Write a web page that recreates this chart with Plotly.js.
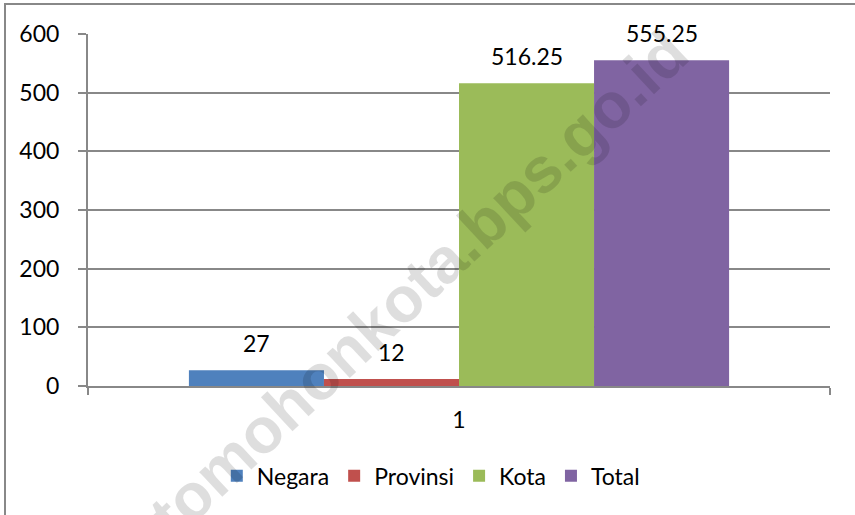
<!DOCTYPE html>
<html>
<head>
<meta charset="utf-8">
<script src="https://cdn.plot.ly/plotly-3.0.1.min.js"></script>
<style>html,body{margin:0;padding:0;background:#fff;}#chart{width:855px;height:515px;}</style>
</head>
<body>
<div id="chart"></div>
<script>
const categories = [1];
const seriesNames = ['Negara', 'Provinsi', 'Kota', 'Total'];
const seriesValues = [[27], [12], [516.25], [555.25]];
const seriesColors = ['#4F81BD', '#C0504D', '#9BBB59', '#8064A2'];
const valueLabels = ['27', '12', '516.25', '555.25'];
const yTicks = [0, 100, 200, 300, 400, 500, 600];
const watermark = 'tomohonkota.bps.go.id';

const FONT = 'Lato, Calibri, Carlito, sans-serif';
const bargap = 0.272;
const groupWidth = 1 - bargap;
const n = seriesNames.length;

const traces = seriesNames.map((name, i) => ({
  type: 'bar',
  name: name,
  x: categories,
  y: seriesValues[i],
  marker: {color: seriesColors[i], line: {width: 0}},
  hoverinfo: 'none'
}));

const annotations = [];
seriesNames.forEach((name, i) => {
  const xc = categories[0] + (i - (n - 1) / 2) * groupWidth / n;
  annotations.push({
    x: xc, y: seriesValues[i][0], xref: 'x', yref: 'y',
    text: valueLabels[i], showarrow: false,
    xanchor: 'center', yanchor: 'middle', yshift: 27,
    font: {family: FONT, size: 23, color: '#000'}
  });
});
annotations.push({
  x: 0.445, y: 0.29, xref: 'paper', yref: 'paper',
  xanchor: 'center', yanchor: 'middle',
  text: watermark, showarrow: false, textangle: -43,
  font: {family: 'Liberation Sans, Arial, sans-serif', size: 64, weight: 'bold', color: 'rgba(0,0,0,0.13)'}
});

const layout = {
  width: 855, height: 515,
  margin: {l: 88, r: 25, t: 34, b: 129, pad: 0},
  paper_bgcolor: '#fff', plot_bgcolor: '#fff',
  barmode: 'group', bargap: bargap, bargroupgap: 0,
  font: {family: FONT, size: 23, color: '#000'},
  xaxis: {
    type: 'linear', range: [0.5, 1.5],
    tickvals: categories, ticktext: categories.map(String),
    ticks: '', showgrid: false, zeroline: false,
    showline: true, linecolor: '#888', linewidth: 2,
    ticklabelstandoff: 12,
    minor: {tickmode: 'linear', tick0: 0.5, dtick: 1, ticks: 'outside', ticklen: 7, tickwidth: 2, tickcolor: '#888', showgrid: false},
    tickfont: {family: FONT, size: 23, color: '#000'}
  },
  yaxis: {
    range: [0, 600], tickvals: yTicks,
    ticks: 'outside', ticklen: 8, tickwidth: 2, tickcolor: '#888',
    showgrid: true, gridcolor: '#888', gridwidth: 2,
    zeroline: false, showline: true, linecolor: '#888', linewidth: 2,
    ticklabelstandoff: 14,
    tickfont: {family: FONT, size: 23, color: '#000'}
  },
  showlegend: true,
  legend: {
    orientation: 'h', x: 0.462, xanchor: 'center', y: -0.255, yanchor: 'middle',
    font: {family: FONT, size: 23, color: '#000'}, bgcolor: 'rgba(0,0,0,0)',
    itemwidth: 30, traceorder: 'normal'
  },
  annotations: annotations,
  shapes: [{
    type: 'rect', xref: 'paper', yref: 'paper',
    x0: (5 - 88) / 742, x1: (870 - 88) / 742, y0: -0.5, y1: (386 - 4) / 352,
    line: {color: '#888', width: 2}, fillcolor: 'rgba(0,0,0,0)', layer: 'below'
  }]
};

Plotly.newPlot('chart', traces, layout, {staticPlot: true, displayModeBar: false});
</script>
</body>
</html>
